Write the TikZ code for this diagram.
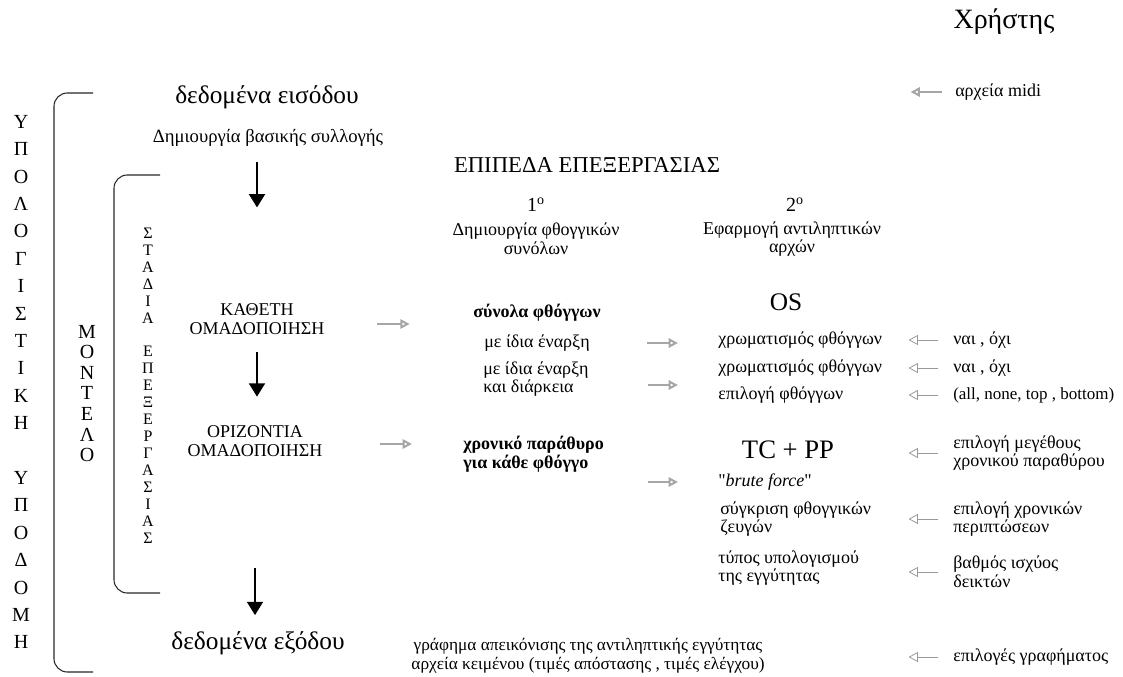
\documentclass[tikz,border=0pt]{standalone}
\usepackage{fontspec}
\setmainfont{Liberation Serif}
\usetikzlibrary{arrows.meta}
\tikzset{
  keimeno/.style={inner sep=0pt, align=flush center, font=\fontsize{13.5}{13.9}\selectfont},
  megalo/.style={keimeno, font=\fontsize{19}{22}\selectfont},
  titlos/.style={keimeno, font=\fontsize{15}{17}\selectfont},
  stili/.style={keimeno, anchor=west, align=flush left},
  pinakas/.style={stili, text width=135pt},
  stadio/.style={keimeno, text width=120pt},
  pagio/.style={font=\fontsize{13.5}{13.9}\selectfont\bfseries},
  katheto/.style={inner sep=0pt, align=center},
  agkyli/.style={line width=.8pt, black!85, rounded corners=10pt},
  velos/.style={-{Triangle[length=10pt, width=12pt]}, line width=1.5pt},
  gkrivelos/.style={-{Triangle[open, length=7pt, width=7pt]}, line width=1.5pt, gray!70},
  leptovelos/.style={-{Triangle[open, length=7pt, width=7.5pt]}, line width=.6pt, gray!80},
}
\begin{document}
\begin{tikzpicture}[x=0.75pt, y=-0.75pt]
\useasboundingbox (0,0) rectangle (1123,677);

% agkyles
\draw[agkyli] (93,93) -- (54,93) -- (54,672) -- (93,672);
\draw[agkyli] (160,175) -- (114,175) -- (114,593) -- (160,593);

% katheta grammata
\node[katheto, font=\fontsize{15}{20.55}\selectfont] (ypodomi) at (21,382)
{Υ\\Π\\Ο\\Λ\\Ο\\Γ\\Ι\\Σ\\Τ\\Ι\\Κ\\Η\\[20.55pt]Υ\\Π\\Ο\\Δ\\Ο\\Μ\\Η};
\node[katheto, font=\fontsize{15}{15.4}\selectfont] (montelo) at (87,393.5)
{Μ\\Ο\\Ν\\Τ\\Ε\\Λ\\Ο};
\node[katheto, font=\fontsize{12}{12.7}\selectfont] (stadia) at (148,385.5)
{Σ\\Τ\\Α\\Δ\\Ι\\Α\\[12.7pt]Ε\\Π\\Ε\\Ξ\\Ε\\Ρ\\Γ\\Α\\Σ\\Ι\\Α\\Σ};

% aristera stili
\node[megalo, font=\fontsize{21}{24}\selectfont] (xristis) at (1004,22) {Χρήστης};
\node[megalo] (eisodos) at (267,97) {δεδομένα εισόδου};
\node[keimeno, font=\fontsize{14}{14.5}\selectfont] (syllogi) at (268,138) {Δημιουργία βασικής συλλογής};
\node[stadio] (katheti) at (257,319) {ΚΑΘΕΤΗ\\ΟΜΑΔΟΠΟΙΗΣΗ};
\node[stadio] (orizontia) at (255,441) {ΟΡΙΖΟΝΤΙΑ\\ΟΜΑΔΟΠΟΙΗΣΗ};
\node[megalo] (exodos) at (258,643) {δεδομένα εξόδου};

% epipeda
\node[titlos, font=\fontsize{17}{19}\selectfont] (epipeda) at (587,165) {ΕΠΙΠΕΔΑ ΕΠΕΞΕΡΓΑΣΙΑΣ};
\node[titlos] (proto) at (536,205) {1\textsuperscript{ο}};
\node[keimeno] (dimiourgia) at (536,239) {Δημιουργία φθογγικών\\συνόλων};
\node[titlos] (deftero) at (795,205) {2\textsuperscript{ο}};
\node[keimeno] (efarmogi) at (792,239) {Εφαρμογή αντιληπτικών\\αρχών};

% 1o epipedo
\node[keimeno, pagio, text width=110pt] (synola) at (537,313) {σύνολα φθόγγων};
\node[keimeno, text width=100pt] (enarxi) at (537,343) {με ίδια έναρξη};
\node[stili, text width=100pt] (diarkeia) at (483,379) {με ίδια έναρξη\\και διάρκεια};
\node[stili, pagio, text width=130pt] (parathyro) at (463,454) {χρονικό παράθυρο\\για κάθε φθόγγο};

% 2o epipedo
\node[megalo] (os) at (786,302) {OS};
\node[pinakas] (xrom1) at (718,340) {χρωματισμός φθόγγων};
\node[pinakas] (xrom2) at (718,368) {χρωματισμός φθόγγων};
\node[pinakas] (epilogi) at (718,395) {επιλογή φθόγγων};
\node[megalo, font=\fontsize{20}{23}\selectfont] (tcpp) at (788,450) {TC + PP};
\node[pinakas] (brute) at (718,482) {\textquotedbl\textit{brute force}\textquotedbl};
\node[pinakas] (sygkrisi) at (720,519) {σύγκριση φθογγικών\\ζευγών};
\node[pinakas] (typos) at (718,568) {τύπος υπολογισμού\\της εγγύτητας};
\node[keimeno, font=\fontsize{13}{13.9}\selectfont] (grafima) at (588,656)
{γράφημα απεικόνισης της αντιληπτικής εγγύτητας\\αρχεία κειμένου (τιμές απόστασης , τιμές ελέγχου)};

% epiloges xristi
\node[stili] (midi) at (955,92) {αρχεία midi};
\node[stili] (nai1) at (953,340) {ναι , όχι};
\node[stili] (nai2) at (953,368) {ναι , όχι};
\node[stili, font=\fontsize{12.75}{13.9}\selectfont] (ola) at (953,395) {(all, none, top , bottom)};
\node[stili] (megethos) at (953,453) {επιλογή μεγέθους\\χρονικού παραθύρου};
\node[stili] (xronikes) at (953,519) {επιλογή χρονικών\\περιπτώσεων};
\node[stili] (vathmos) at (953,572) {βαθμός ισχύος\\δεικτών};
\node[stili] (epiloges) at (953,657) {επιλογές γραφήματος};

% stadia
\draw[velos, shorten <=11.4pt, shorten >=72pt] (syllogi.south -| katheti.north) -- (katheti.north);
\draw[velos, shorten <=13.4pt, shorten >=21.6pt] (katheti.south) -- (katheti.south |- orizontia.north);
\draw[velos, shorten <=83.9pt, shorten >=12pt] (orizontia.south) -- (orizontia.south |- exodos.north);

% pros ta epipeda
\draw[gkrivelos, shorten <=30pt, shorten >=40.3pt] ([yshift=-3.75pt]katheti.east) -- ([yshift=-3.75pt]katheti.east -| synola.west);
\draw[gkrivelos, shorten <=33.75pt, shorten >=38.25pt] ([yshift=-2.25pt]orizontia.east) -- ([yshift=-2.25pt]orizontia.east -| parathyro.west);
\draw[gkrivelos, shorten <=32.5pt, shorten >=30pt] (enarxi.east) -- (enarxi.east -| xrom1.west);
\draw[gkrivelos, shorten <=23pt, shorten >=30pt] ([yshift=-4.5pt]diarkeia.east) -- ([yshift=-4.5pt]diarkeia.east -| xrom1.west);
\draw[gkrivelos, shorten <=8pt, shorten >=30pt] (brute.west -| parathyro.east) -- (brute.west);

% apo ton xristi
\draw[gkrivelos, shorten <=9.75pt, shorten >=9pt] (midi.west) -- (midi.west -| xrom1.east);
\draw[leptovelos, shorten <=11.25pt, shorten >=7.5pt] (nai1.west) -- (xrom1.east);
\draw[leptovelos, shorten <=11.25pt, shorten >=7.5pt] (nai2.west) -- (xrom2.east);
\draw[leptovelos, shorten <=11.25pt, shorten >=7.5pt] (ola.west) -- (epilogi.east);
\draw[leptovelos, shorten <=11.25pt, shorten >=7.5pt] (megethos.west) -- (megethos.west -| xrom1.east);
\draw[leptovelos, shorten <=11.25pt, shorten >=7.5pt] (xronikes.west) -- (xronikes.west -| xrom1.east);
\draw[leptovelos, shorten <=11.25pt, shorten >=7.5pt] (vathmos.west) -- (vathmos.west -| xrom1.east);
\draw[leptovelos, shorten <=11.25pt, shorten >=7.5pt] (epiloges.west) -- (epiloges.west -| xrom1.east);

\end{tikzpicture}
\end{document}
